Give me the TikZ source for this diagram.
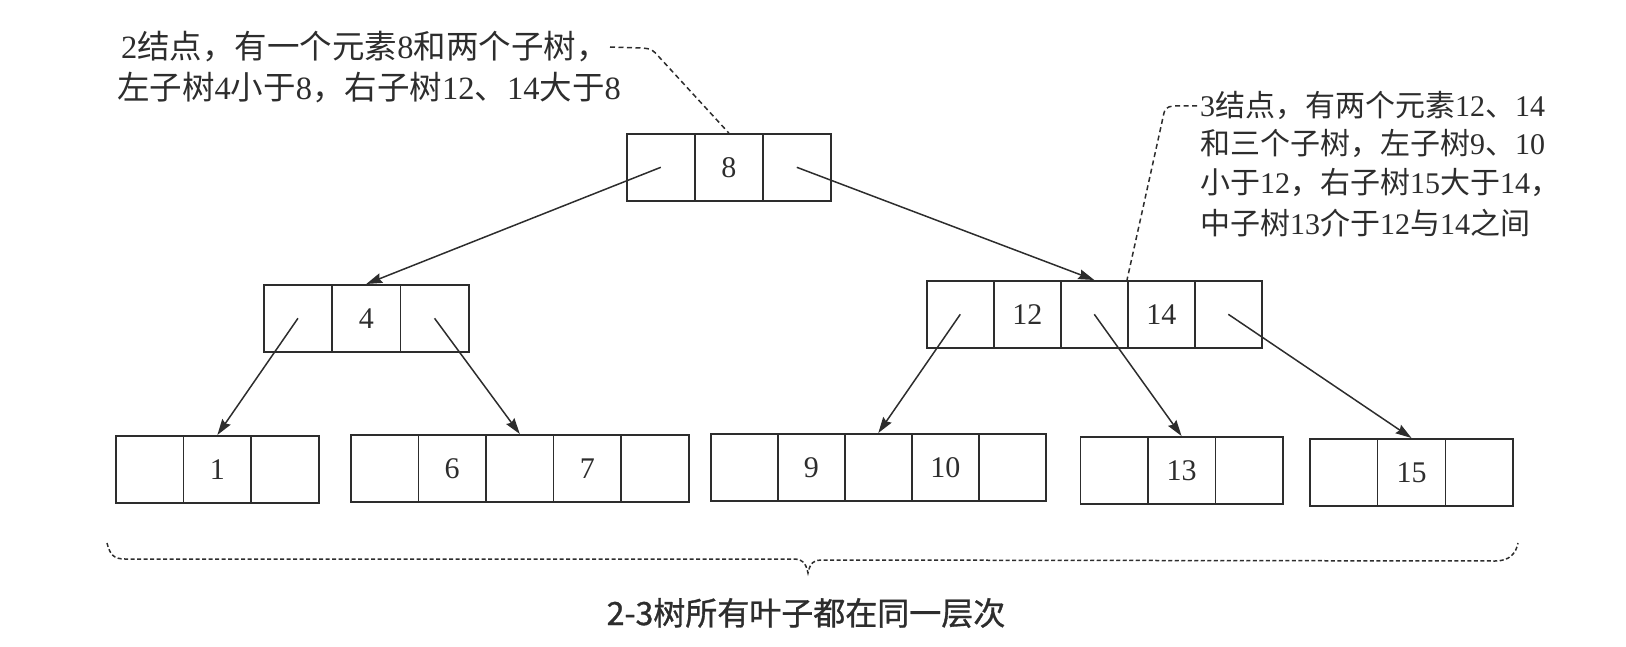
\documentclass[tikz,border=0pt]{standalone}
\usepackage{fontspec}
\setmainfont{Liberation Serif}
\newfontfamily\cjk{Noto Sans CJK SC}
\newfontfamily\cjkheavy[FakeBold=1]{Noto Sans CJK SC}
\usetikzlibrary{arrows.meta,calc}
\definecolor{ink}{RGB}{45,45,45}

% one row of cells: name, left x, top y, cell width, labels
\newcommand\cellrow[5]{%
  \foreach \t [count=\i] in {#5}
    \node[cell, minimum width=#4pt] (#1\i) at ({#2+(\i-1)*#4},#3) {\t};}

\begin{document}
\begin{tikzpicture}[x=1pt,y=-1pt,
  every path/.style={color=ink},
  cell/.style={draw=ink, line width=1.6pt, minimum height=67pt, inner sep=0pt,
    anchor=north west, text=ink, font=\fontsize{30}{30}\selectfont},
  link/.style={line width=1.5pt, -{Stealth[length=16pt,width=10pt,inset=2pt]}},
  callout/.style={line width=1.5pt, dash pattern=on 5pt off 3.5pt},
  note/.style={anchor=base west, inner sep=0pt, text=ink},
  bignote/.style={note, font=\fontsize{32.5}{32.5}\selectfont},
  smallnote/.style={note, font=\fontsize{30}{30}\selectfont}
]
\useasboundingbox (0,0) rectangle (1626,647);

% root and inner nodes
\cellrow{r}{626}{133}{68}{\relax,8,\relax}
\cellrow{a}{263}{284}{68.3}{\relax,4,\relax}
\cellrow{b}{926}{280}{67}{\relax,12,\relax,14,\relax}

% leaves
\cellrow{c}{115}{435}{67.7}{\relax,1,\relax}
\cellrow{d}{350}{434}{67.6}{\relax,6,\relax,7,\relax}
\cellrow{e}{710}{433}{67}{\relax,9,\relax,10,\relax}
\cellrow{f}{1079.5}{436}{67.5}{\relax,13,\relax}
\cellrow{g}{1309}{438}{67.8}{\relax,15,\relax}

% child pointers
\draw[link] (r1.center) -- (a2.north);
\draw[link] (r3.center) -- (b3.north);
\draw[link] (a1.center) -- (c2.north);
\draw[link] (a3.center) -- (d3.north);
\draw[link] (b1.center) -- (e3.north);
\draw[link] (b3.center) -- (f2.north);
\draw[link] (b5.center) -- (g2.north);

% note on the 2-node
\node[bignote] (n1) at (121,59) {2{\cjk 结点，有一个元素}8{\cjk 和两个子树，}};
\node[bignote] (n2) at (117,100) {{\cjk 左子树}4{\cjk 小于}8{\cjk ，右子树}12{\cjk 、}14{\cjk 大于}8};
\coordinate (tipA) at (610,47);
\draw[callout] (tipA) -- ++(32,1) .. controls ++(10,1) .. ++(18,10) -- (r2.north);

% note on the 3-node
\node[smallnote] (m1) at (1200,117) {3{\cjk 结点，有两个元素}12{\cjk 、}14};
\node[smallnote] (m2) at (1200,155) {{\cjk 和三个子树，左子树}9{\cjk 、}10};
\node[smallnote] (m3) at (1200,194) {{\cjk 小于}12{\cjk ，右子树}15{\cjk 大于}14{\cjk ，}};
\node[smallnote] (m4) at (1200,235) {{\cjk 中子树}13{\cjk 介于}12{\cjk 与}14{\cjk 之间}};
\coordinate (tipB) at (1197,106);
\draw[callout] (tipB) -- ++(-22,0) .. controls ++(-10,1) .. ++(-13,16) -- (b4.north west);

% brace under the leaf level
\draw[line width=1.5pt, dash pattern=on 4pt off 2.5pt]
  (107,543) .. controls (110,555) and (114,559) .. (125,559) -- (795,559)
  .. controls (802,559) and (806,563) .. (808,573)
  .. controls (810,563) and (814,560) .. (821,560) -- (1495,561)
  .. controls (1510,561) and (1516,553) .. (1518,543);
\node[text=ink, font=\cjkheavy\fontsize{32}{32}\selectfont, inner sep=0pt] (cap) at (806,613) {2-3树所有叶子都在同一层次};
\end{tikzpicture}
\end{document}
